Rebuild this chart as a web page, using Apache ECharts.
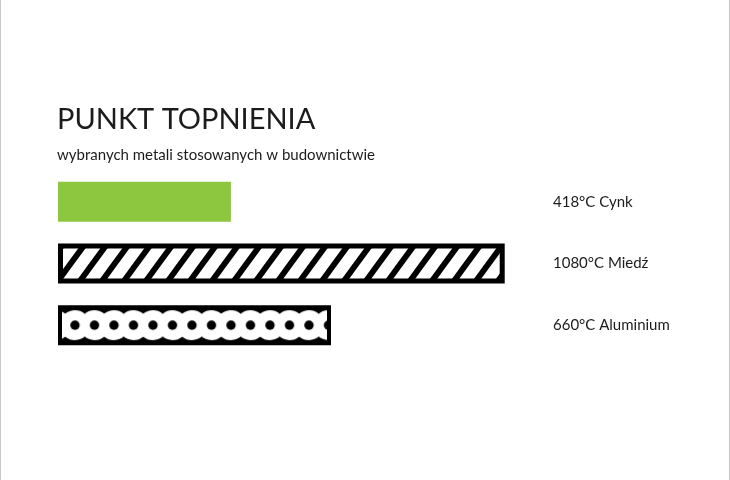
<!DOCTYPE html>
<html>
<head>
<meta charset="utf-8">
<script src="https://cdn.jsdelivr.net/npm/echarts@6/dist/echarts.min.js"></script>
<style>
  html, body { margin: 0; padding: 0; background: #fff; }
  #chart { width: 730px; height: 480px; }
</style>
</head>
<body>
<div id="chart"></div>
<script>
// dane: punkt topnienia metali (°C)
var metals = ['Cynk', 'Miedź', 'Aluminium'];
var meltingPoints = [418, 1080, 660];
var unit = '°C';

var TEXT_COLOR = '#1c1c1c';
var GREEN = '#8dc63f';
var FONT = 'Lato';

// kafelek w ukośne paski
function stripeTile() {
    var w = 22, h = 30;
    var c = document.createElement('canvas');
    c.width = w; c.height = h;
    var ctx = c.getContext('2d');
    ctx.fillStyle = '#fff';
    ctx.fillRect(0, 0, w, h);
    ctx.strokeStyle = '#000';
    ctx.lineWidth = 5.8;
    for (var i = -1; i <= 1; i++) {
        // linia przedłużona poza kafelek, żeby nie było przerw na krawędziach
        ctx.beginPath();
        ctx.moveTo(i * w - w, 2 * h);
        ctx.lineTo(i * w + 2 * w, -h);
        ctx.stroke();
    }
    return c;
}

// kafelek w kropki (białe koła z czarną kropką)
function dotTile() {
    var w = 39, h = 32, step = 19.5;
    var c = document.createElement('canvas');
    c.width = w; c.height = h;
    var ctx = c.getContext('2d');
    ctx.fillStyle = '#000';
    ctx.fillRect(0, 0, w, h);
    var xs = [-step / 2, step / 2, step * 1.5, step * 2.5];
    ctx.fillStyle = '#fff';
    xs.forEach(function (x) {
        ctx.beginPath();
        ctx.arc(x, h / 2, 15, 0, Math.PI * 2);
        ctx.fill();
    });
    ctx.fillStyle = '#000';
    xs.forEach(function (x) {
        ctx.beginPath();
        ctx.arc(x, h / 2, 4.7, 0, Math.PI * 2);
        ctx.fill();
    });
    return c;
}

var stripeImg = stripeTile();
var dotImg = dotTile();

function buildData(dotOffsetX, dotOffsetY) {
    var styles = [
        {color: GREEN},
        {color: {image: stripeImg, repeat: 'repeat'}, borderColor: '#000', borderWidth: 5},
        {color: {image: dotImg, repeat: 'repeat', x: dotOffsetX, y: dotOffsetY}, borderColor: '#000', borderWidth: 4}
    ];
    return meltingPoints.map(function (v, i) {
        return {value: v, itemStyle: styles[i]};
    });
}

var myChart = echarts.init(document.getElementById('chart'), null, {renderer: 'canvas'});

var option = {
    backgroundColor: '#fff',
    animation: false,
    title: [{
        left: 52, top: 100,
        text: 'PUNKT TOPNIENIA',
        textStyle: {color: TEXT_COLOR, fontFamily: FONT, fontWeight: 400, fontSize: 29}
    }, {
        left: 52, top: 143,
        text: 'wybranych metali stosowanych w budownictwie',
        textStyle: {color: TEXT_COLOR, fontFamily: FONT, fontWeight: 400, fontSize: 15}
    }],
    grid: {left: 58, right: 186, top: 171, bottom: 124, containLabel: false},
    xAxis: {
        type: 'value', min: 0, max: 1175, show: false
    },
    yAxis: {
        type: 'category', data: metals, inverse: true, position: 'right',
        axisLine: {show: false}, axisTick: {show: false}, splitLine: {show: false},
        axisLabel: {
            margin: 9, align: 'left', color: TEXT_COLOR, fontFamily: FONT, fontSize: 15,
            padding: [4, 0, 0, 0],
            formatter: function (name) {
                var i = metals.indexOf(name);
                return meltingPoints[i] + unit + ' ' + name;
            }
        }
    },
    graphic: [
        {type: 'line', shape: {x1: 0.5, y1: 0, x2: 0.5, y2: 480}, style: {stroke: '#c8c8c8', lineWidth: 1}},
        {type: 'line', shape: {x1: 729.5, y1: 0, x2: 729.5, y2: 480}, style: {stroke: '#c8c8c8', lineWidth: 1}}
    ],
    series: [{
        type: 'bar',
        barWidth: 40,
        data: buildData(0, 0)
    }]
};
myChart.setOption(option);

// wyrównanie wzoru kropek do paska
var cy = myChart.convertToPixel({yAxisIndex: 0}, metals[2]);
var x0 = myChart.convertToPixel({xAxisIndex: 0}, 0);
myChart.setOption({series: [{data: buildData(x0 + 7.2, cy - 16)}]});
</script>
</body>
</html>
